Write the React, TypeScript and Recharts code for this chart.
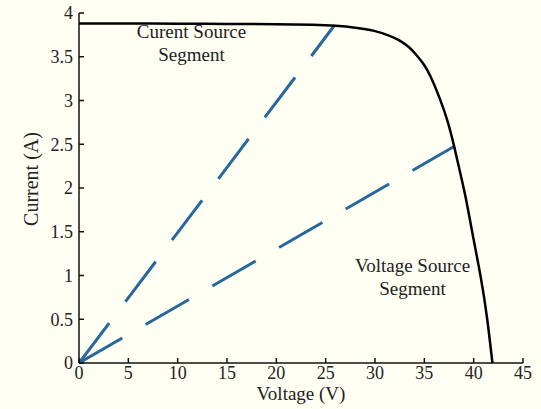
import { LineChart, Line, XAxis, YAxis, ReferenceDot } from "recharts";

const xTicks = [0, 5, 10, 15, 20, 25, 30, 35, 40, 45];
const yTicks = [0, 0.5, 1, 1.5, 2, 2.5, 3, 3.5, 4];

// I-V curve of the panel
const voltage = [0, 5, 10, 15, 20, 24, 26, 28, 30, 31.5, 32.5, 33.5, 34.2, 35, 35.6, 36.6, 37.4, 38.0, 38.6, 39.2, 39.8, 40.8, 41.4, 41.9];
const current = [3.88, 3.88, 3.878, 3.876, 3.872, 3.865, 3.855, 3.835, 3.8, 3.74, 3.69, 3.61, 3.52, 3.41, 3.29, 3.02, 2.76, 2.49, 2.19, 1.9, 1.52, 0.95, 0.5, 0];

// dashed load lines from the origin
const currentLine = [
  { v: 0, i: 0 },
  { v: 25.9, i: 3.86 },
];
const voltageLine = [
  { v: 0, i: 0 },
  { v: 38.1, i: 2.48 },
];

const curve = voltage.map((v, k) => ({ v, i: current[k] }));

const font = "'Liberation Serif', 'Times New Roman', serif";
const txt = "#222";

function TwoLines({ viewBox, lines }: any) {
  const cx = viewBox.x + (viewBox.width || 0) / 2;
  const cy = viewBox.y + (viewBox.height || 0) / 2;
  return (
    <text x={cx} y={cy} textAnchor="middle" fontFamily={font} fontSize={19} fill={txt}>
      {lines.map((l: string, k: number) => (
        <tspan key={k} x={cx} dy={k === 0 ? 0 : 23}>
          {l}
        </tspan>
      ))}
    </text>
  );
}

function YTitle({ viewBox }: any) {
  const x = viewBox.x + 38;
  const y = viewBox.y + viewBox.height / 2 - 9;
  return (
    <text x={x} y={y} transform={`rotate(-90 ${x} ${y})`} textAnchor="middle" fontFamily={font} fontSize={20} fill={txt}>
      Current (A)
    </text>
  );
}

export default function App() {
  return (
    <div style={{ position: "absolute", left: 0, top: 0, width: 541, height: 409, background: "#fffff4" }}>
      <LineChart width={541} height={409} data={curve} margin={{ top: 13, right: 18, bottom: 0, left: 0 }}>
        <XAxis
          dataKey="v"
          type="number"
          domain={[0, 45]}
          ticks={xTicks}
          allowDataOverflow
          height={46}
          tickSize={-5}
          tickMargin={8}
          stroke="#111"
          strokeWidth={1.5}
          tick={{ fill: txt, fontFamily: font, fontSize: 18 }}
          label={{ value: "Voltage (V)", position: "insideBottom", offset: 9, fill: txt, fontFamily: font, fontSize: 19 }}
        />
        <XAxis
          xAxisId="top"
          orientation="top"
          dataKey="v"
          type="number"
          domain={[0, 45]}
          ticks={xTicks}
          height={0}
          tickSize={-5}
          tick={false}
          stroke="#111"
          strokeWidth={1.5}
        />
        <YAxis
          type="number"
          domain={[0, 4]}
          ticks={yTicks}
          width={79}
          tickSize={-5}
          tickMargin={11}
          stroke="#111"
          strokeWidth={1.5}
          tick={{ fill: txt, fontFamily: font, fontSize: 18 }}
          label={<YTitle />}
        />
        <YAxis
          yAxisId="right"
          orientation="right"
          type="number"
          domain={[0, 4]}
          ticks={yTicks}
          width={0}
          tickSize={-5}
          tick={false}
          stroke="#111"
          strokeWidth={1.5}
        />
        <Line data={currentLine} dataKey="i" type="linear" stroke="#26679c" strokeWidth={3} strokeDasharray="50 27" dot={false} isAnimationActive={false} />
        <Line data={voltageLine} dataKey="i" type="linear" stroke="#26679c" strokeWidth={3} strokeDasharray="50 27" dot={false} isAnimationActive={false} />
        <Line dataKey="i" type="basis" stroke="#000" strokeWidth={2.5} dot={false} isAnimationActive={false} />
        <ReferenceDot x={11.4} y={3.72} r={0} label={<TwoLines lines={["Curent Source", "Segment"]} />} />
        <ReferenceDot x={33.8} y={1.04} r={0} label={<TwoLines lines={["Voltage Source", "Segment"]} />} />
      </LineChart>
    </div>
  );
}
